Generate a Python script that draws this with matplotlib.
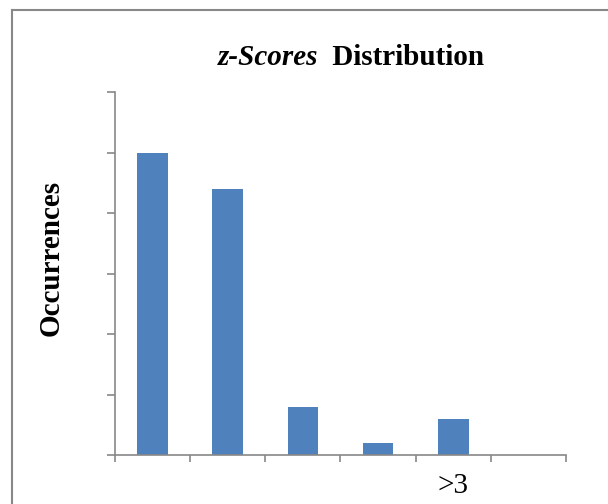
import numpy as np
import matplotlib
matplotlib.use("Agg")
import matplotlib.pyplot as plt
from matplotlib.lines import Line2D

# ---------------- DATA ----------------

categories = ["", "", "", "", ">3", ""]
occurrences = [25, 22, 4, 1, 3, 0]
y_ticks = [0, 5, 10, 15, 20, 25, 30]

# ---------------- FIGURE ----------------

plt.rcParams["font.family"] = ["Liberation Serif", "DejaVu Serif"]

fig = plt.figure(figsize=(6.08, 5.04), dpi=100)
ax = fig.add_axes([115 / 608, 1 - 455 / 504, (566 - 115) / 608, (455 - 92) / 504])

x = np.arange(len(categories))
ax.bar(x, occurrences, width=0.41, color="#4F81BD", zorder=2)

ax.set_xlim(-0.5, len(categories) - 0.5)
ax.set_ylim(y_ticks[0], y_ticks[-1])

axis_color = "#888888"
for side in ["top", "right"]:
    ax.spines[side].set_visible(False)
for side in ["left", "bottom"]:
    ax.spines[side].set_color(axis_color)
    ax.spines[side].set_linewidth(1.2)

# y ticks, no labels
ax.set_yticks(y_ticks)
ax.set_yticklabels([])
ax.tick_params(axis="y", direction="out", length=6, width=1.2, color=axis_color)

# x ticks at category boundaries, labels at centres
ax.set_xticks(np.arange(len(categories) + 1) - 0.5)
ax.set_xticklabels([])
ax.tick_params(axis="x", which="major", direction="out", length=5, width=1.2,
               color=axis_color)
ax.set_xticks(x, minor=True)
ax.set_xticklabels(categories, minor=True, fontsize=21)
ax.tick_params(axis="x", which="minor", length=0, pad=13)

# y axis title
fig.text(51 / 608, 1 - 258 / 504, "Occurrences", fontsize=21, fontweight="bold",
         rotation=90, ha="center", va="center")

# title: italic "z-Scores" + bold "Distribution"
fig.text(0.535, 1 - 65 / 504, "z-Scores ", fontsize=21, fontweight="bold",
         fontstyle="italic", ha="right", va="baseline")
fig.text(0.535, 1 - 65 / 504, " Distribution", fontsize=21, fontweight="bold",
         ha="left", va="baseline")

# outer chart frame (right and bottom edges lie outside the picture)
fx = 12 / 608
fy = 1 - 10 / 504
fig.add_artist(Line2D([fx, fx], [-0.1, fy], color=axis_color, lw=1.5))
fig.add_artist(Line2D([fx, 1.1], [fy, fy], color=axis_color, lw=1.5))

fig.savefig("out.png", dpi=100)
